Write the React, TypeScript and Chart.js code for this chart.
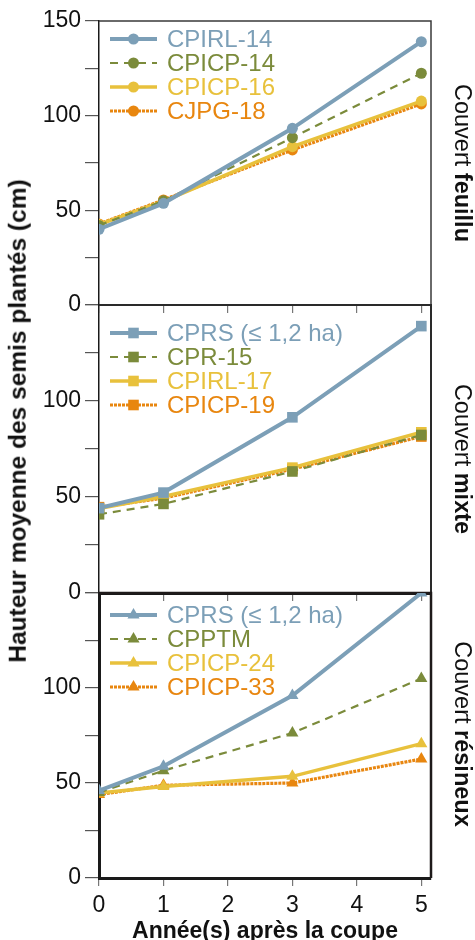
import React, { useEffect, useRef } from 'react';
import { Chart, registerables } from 'chart.js';

Chart.register(...registerables);

// ---------- data ----------
const years = [0, 1, 3, 5];
const xTickValues = [0, 1, 2, 3, 4, 5];
const yLabelValues = [0, 50, 100, 150];

const feuilluLabels = ['CPIRL-14', 'CPICP-14', 'CPICP-16', 'CJPG-18'];
const feuilluCPIRL14 = [40, 53.7, 93.3, 139.1];
const feuilluCPICP14 = [42, 55, 88.4, 122.4];
const feuilluCPICP16 = [42.5, 54.8, 83.6, 107.7];
const feuilluCJPG18 = [42.8, 55.5, 81.9, 106.2];

const mixteLabels = ['CPRS (≤ 1,2 ha)', 'CPR-15', 'CPIRL-17', 'CPICP-19'];
const mixteCPRS = [44.2, 52.3, 91.5, 139];
const mixteCPR15 = [41, 46.4, 63.3, 82.3];
const mixteCPIRL17 = [44, 50.3, 65.3, 83.7];
const mixteCPICP19 = [44.7, 49.4, 64.5, 81.5];

const resineuxLabels = ['CPRS (≤ 1,2 ha)', 'CPPTM', 'CPICP-24', 'CPICP-33'];
const resineuxCPRS = [46, 58.8, 96, 150];
const resineuxCPPTM = [45, 56.5, 76.3, 105];
const resineuxCPICP24 = [44.7, 48.2, 53.5, 70.7];
const resineuxCPICP33 = [43.9, 48.8, 50, 62.6];

const panelTitlesNormal = ['Couvert ', 'Couvert ', 'Couvert '];
const panelTitlesBold = ['feuillu', 'mixte', 'résineux'];
const yAxisTitle = 'Hauteur moyenne des semis plantés (cm)';
const xAxisTitle = 'Année(s) après la coupe';

// ---------- styles ----------
const FONT = '"Liberation Sans", Arial, Helvetica, sans-serif';
const seriesColors = ['#7c9fb7', '#7b8b3b', '#e8c13c', '#e8860f'];
const seriesWidths = [4, 2.2, 3.5, 3.2];
const seriesDashes: number[][] = [[], [8, 6], [], [3, 1]];

type PanelCfg = {
  labels: string[];
  values: number[][];
  pointStyle: 'circle' | 'rect' | 'triangle';
  radius: number;
  areaTop: number;
  areaBottom: number;
  xHeight: number;
  showXLabels: boolean;
  hideTop: boolean;
  legendTop: number;
  frameColor: string;
  frameWidth: number;
  axisWidth: number;
  bottomWidth: number;
  titleY: number;
};

const TOP_PAD = 21;

const panels: PanelCfg[] = [
  {
    labels: feuilluLabels,
    values: [feuilluCPIRL14, feuilluCPICP14, feuilluCPICP16, feuilluCJPG18],
    pointStyle: 'circle', radius: 5.5,
    areaTop: 21, areaBottom: 305, xHeight: 12, showXLabels: false, hideTop: false,
    legendTop: 18, frameColor: '#3a3a3a', frameWidth: 1.5, axisWidth: 1.5, bottomWidth: 2,
    titleY: 163,
  },
  {
    labels: mixteLabels,
    values: [mixteCPRS, mixteCPR15, mixteCPIRL17, mixteCPICP19],
    pointStyle: 'rect', radius: 7.5,
    areaTop: 305, areaBottom: 593, xHeight: 12, showXLabels: false, hideTop: true,
    legendTop: 28, frameColor: '#2a2a2a', frameWidth: 2, axisWidth: 1.5, bottomWidth: 3,
    titleY: 459,
  },
  {
    labels: resineuxLabels,
    values: [resineuxCPRS, resineuxCPPTM, resineuxCPICP24, resineuxCPICP33],
    pointStyle: 'triangle', radius: 7,
    areaTop: 593, areaBottom: 878, xHeight: 67, showXLabels: true, hideTop: true,
    legendTop: 22, frameColor: '#1e1a1a', frameWidth: 2.5, axisWidth: 3, bottomWidth: 3,
    titleY: 734,
  },
];

function drawMarker(ctx: CanvasRenderingContext2D, style: string, x: number, y: number, r: number) {
  ctx.beginPath();
  if (style === 'circle') {
    ctx.arc(x, y, r, 0, Math.PI * 2);
  } else if (style === 'rect') {
    const s = Math.SQRT1_2 * r;
    ctx.rect(x - s, y - s, 2 * s, 2 * s);
  } else {
    ctx.moveTo(x, y - r);
    ctx.lineTo(x - r * 0.866, y + r * 0.5);
    ctx.lineTo(x + r * 0.866, y + r * 0.5);
    ctx.closePath();
  }
  ctx.fill();
}

const inlineLegend = {
  id: 'inlineLegend',
  afterDatasetsDraw(chart: any, _args: any, opts: any) {
    const ctx: CanvasRenderingContext2D = chart.ctx;
    const area = chart.chartArea;
    const step = 24;
    chart.data.datasets.forEach((ds: any, i: number) => {
      const y = area.top + opts.top + i * step;
      const x1 = area.left + 11;
      const x2 = area.left + 58;
      ctx.save();
      ctx.strokeStyle = ds.borderColor;
      ctx.lineWidth = ds.borderWidth;
      ctx.setLineDash(ds.borderDash || []);
      ctx.beginPath();
      ctx.moveTo(x1, y);
      ctx.lineTo(x2, y);
      ctx.stroke();
      ctx.setLineDash([]);
      ctx.fillStyle = ds.pointBackgroundColor;
      drawMarker(ctx, ds.pointStyle, (x1 + x2) / 2, y, ds.pointRadius);
      ctx.fillStyle = ds.borderColor;
      ctx.font = `24px ${FONT}`;
      ctx.textBaseline = 'middle';
      ctx.textAlign = 'left';
      ctx.fillText(ds.label, area.left + 68, y + 1);
      ctx.restore();
    });
  },
};

const framePlugin = {
  id: 'frame',
  beforeDatasetsDraw(chart: any, _args: any, opts: any) {
    const ctx: CanvasRenderingContext2D = chart.ctx;
    const a = chart.chartArea;
    ctx.save();
    ctx.strokeStyle = opts.color;
    ctx.lineWidth = opts.width;
    ctx.beginPath();
    ctx.moveTo(a.left, a.top);
    ctx.lineTo(a.right, a.top);
    ctx.lineTo(a.right, a.bottom);
    ctx.stroke();
    ctx.restore();
  },
};

function Panel({ cfg }: { cfg: PanelCfg }) {
  const ref = useRef<HTMLCanvasElement | null>(null);
  const canvasTop = cfg.areaTop - TOP_PAD;
  const canvasHeight = cfg.areaBottom - cfg.areaTop + TOP_PAD + cfg.xHeight;

  useEffect(() => {
    if (!ref.current) return;
    const datasets = cfg.labels.map((label, i) => ({
      label,
      data: years.map((x, j) => ({ x, y: cfg.values[i][j] })),
      borderColor: seriesColors[i],
      backgroundColor: seriesColors[i],
      pointBackgroundColor: seriesColors[i],
      pointBorderColor: seriesColors[i],
      pointBorderWidth: 0,
      borderWidth: seriesWidths[i],
      borderDash: seriesDashes[i],
      pointStyle: cfg.pointStyle,
      pointRadius: cfg.radius,
      tension: 0,
      fill: false,
    }));

    const chart = new Chart(ref.current, {
      type: 'line',
      data: { datasets },
      plugins: [framePlugin, inlineLegend],
      options: {
        animation: false,
        responsive: false,
        devicePixelRatio: 1,
        events: [],
        layout: { padding: { top: TOP_PAD, right: 44, left: 0, bottom: 0 } },
        plugins: {
          legend: { display: false },
          tooltip: { enabled: false },
          inlineLegend: { top: cfg.legendTop },
          frame: { color: cfg.frameColor, width: cfg.frameWidth },
        } as any,
        scales: {
          x: {
            type: 'linear',
            min: 0,
            max: 5.15,
            afterBuildTicks: (scale: any) => {
              scale.ticks = xTickValues.map((v) => ({ value: v }));
            },
            afterFit: (scale: any) => {
              scale.height = cfg.xHeight;
              scale.paddingLeft = 0;
              scale.paddingRight = 0;
            },
            ticks: {
              display: cfg.showXLabels,
              font: { family: FONT, size: 23 },
              color: '#111',
              padding: 6,
              maxRotation: 0,
              autoSkip: false,
            },
            grid: {
              drawOnChartArea: false,
              drawTicks: true,
              tickLength: 8,
              color: '#777',
              lineWidth: 1.2,
            },
            border: { display: true, color: '#1a1a1a', width: cfg.bottomWidth },
            title: {
              display: cfg.showXLabels,
              text: xAxisTitle,
              font: { family: FONT, size: 23, weight: 'bold' },
              color: '#111',
              padding: { top: 0, bottom: 0 },
            },
          },
          y: {
            type: 'linear',
            min: 0,
            max: 150,
            afterFit: (scale: any) => {
              scale.width = 99;
              scale.paddingTop = 0;
              scale.paddingBottom = 0;
            },
            ticks: {
              stepSize: 25,
              font: { family: FONT, size: 23 },
              color: '#111',
              padding: 4,
              callback: (v: any) => {
                if (!yLabelValues.includes(v)) return '';
                if (cfg.hideTop && v === 150) return '';
                return String(v);
              },
            },
            grid: {
              drawOnChartArea: false,
              drawTicks: true,
              tickLength: 14,
              color: '#555',
              lineWidth: 1.2,
            },
            border: { display: true, color: '#1a1a1a', width: cfg.axisWidth },
          },
        },
      } as any,
    });
    return () => chart.destroy();
  }, [cfg]);

  return (
    <canvas
      ref={ref}
      width={475}
      height={canvasHeight}
      style={{ position: 'absolute', left: 0, top: canvasTop, width: 475, height: canvasHeight, display: 'block' }}
    />
  );
}

export default function App() {
  return (
    <div
      style={{
        position: 'fixed',
        left: 0,
        top: 0,
        width: 475,
        height: 940,
        background: '#fff',
        overflow: 'hidden',
        fontFamily: FONT,
      }}
    >
      {panels.map((p, i) => (
        <Panel key={i} cfg={p} />
      ))}
      {panels.map((p, i) => (
        <div
          key={'t' + i}
          style={{
            position: 'absolute',
            left: 462,
            top: p.titleY,
            transform: 'translate(-50%, -50%)',
            writingMode: 'vertical-rl',
            whiteSpace: 'nowrap',
            fontSize: 23.5,
            lineHeight: 1,
            color: '#111',
          }}
        >
          {panelTitlesNormal[i]}
          <b>{panelTitlesBold[i]}</b>
        </div>
      ))}
      <div
        style={{
          position: 'absolute',
          left: 18,
          top: 421,
          transform: 'translate(-50%, -50%) rotate(-90deg)',
          whiteSpace: 'nowrap',
          fontSize: 24.5,
          fontWeight: 'bold',
          lineHeight: 1,
          color: '#111',
        }}
      >
        {yAxisTitle}
      </div>
    </div>
  );
}
